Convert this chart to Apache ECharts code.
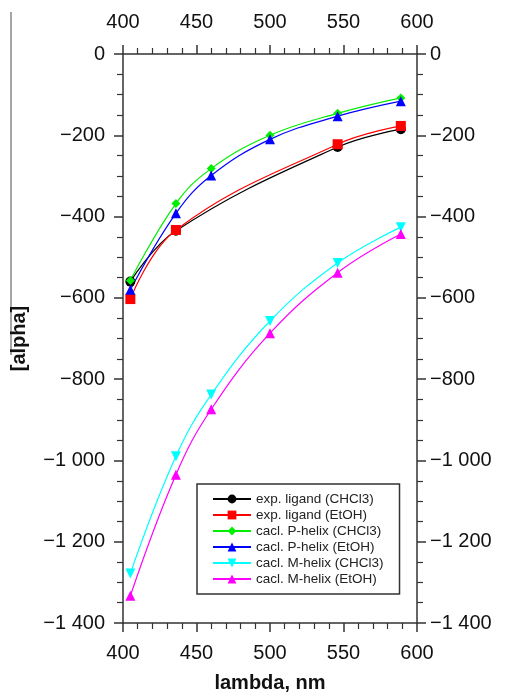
<!DOCTYPE html>
<html><head><meta charset="utf-8">
<script src="https://cdn.jsdelivr.net/npm/echarts@6/dist/echarts.min.js"></script>
<style>html,body{margin:0;padding:0;background:#fff}#c{width:505px;height:698px}</style>
</head><body><div id="c"></div>
<script>
const lambdaExp = [405, 436, 546, 589];
const lambdaCalc = [405, 436, 460, 500, 546, 589];
const expLigandCHCl3 = [-560, -435, -229, -185];
const expLigandEtOH = [-603, -433, -222, -177];
const pHelixCHCl3 = [-557, -368, -282, -200, -146, -108];
const pHelixEtOH = [-580, -392, -299, -210, -153, -116];
const mHelixCHCl3 = [-1278, -990, -838, -657, -514, -426];
const mHelixEtOH = [-1333, -1035, -874, -687, -538, -443];
const seriesNames = ['exp. ligand (CHCl3)','exp. ligand (EtOH)','cacl. P-helix (CHCl3)','cacl. P-helix (EtOH)','cacl. M-helix (CHCl3)','cacl. M-helix (EtOH)'];

const zip = (xs, ys) => xs.map((x, i) => [x, ys[i]]);
const fmtY = v => {
  const a = Math.abs(v);
  const s = a >= 1000 ? Math.floor(a/1000) + ' ' + String(a%1000).padStart(3,'0') : String(a);
  return (v < 0 ? '\u2212' : '') + s;
};
const FONT = 'Liberation Sans';
const axisLineStyle = {color: '#333', width: 1.5};
const xCommon = {
  type: 'value', min: 400, max: 600, interval: 50,
  axisLine: {show: true, onZero: false, lineStyle: axisLineStyle},
  axisTick: {show: true, length: 9, lineStyle: axisLineStyle},
  minorTick: {show: true, splitNumber: 5, length: 6, lineStyle: {color: '#333', width: 1.2}},
  splitLine: {show: false},
  axisLabel: {fontFamily: FONT, fontSize: 20, color: '#111'}
};
const yCommon = {
  type: 'value', min: -1400, max: 0, interval: 200,
  axisLine: {show: true, onZero: false, lineStyle: axisLineStyle},
  axisTick: {show: true, length: 9, lineStyle: axisLineStyle},
  minorTick: {show: true, splitNumber: 4, length: 6, lineStyle: {color: '#333', width: 1.2}},
  splitLine: {show: false},
  axisLabel: {fontFamily: FONT, fontSize: 20, color: '#111', formatter: fmtY}
};
const mk = (name, xs, ys, color, symbol, size, rot) => ({
  name, type: 'line', data: zip(xs, ys), smooth: 0.4,
  symbol, symbolSize: size, symbolRotate: rot || 0, showSymbol: true,
  itemStyle: {color}, lineStyle: {color, width: 1.2},
  xAxisIndex: 0, yAxisIndex: 0, z: 2
});
const chart = echarts.init(document.getElementById('c'), null, {renderer: 'canvas'});
chart.setOption({
  animation: false,
  backgroundColor: '#fff',
  grid: {left: 123, right: 88, top: 54, bottom: 69, containLabel: false},
  xAxis: [
    Object.assign({}, xCommon, {position: 'bottom', name: 'lambda, nm', nameLocation: 'middle', nameGap: 50,
      nameTextStyle: {fontFamily: FONT, fontSize: 20, fontWeight: 'bold', color: '#111'},
      axisLabel: Object.assign({}, xCommon.axisLabel, {margin: 20})}),
    Object.assign({}, xCommon, {position: 'top', axisLabel: Object.assign({}, xCommon.axisLabel, {margin: 22})})
  ],
  yAxis: [
    Object.assign({}, yCommon, {position: 'left', name: '[alpha]', nameLocation: 'middle', nameGap: 94, nameRotate: 90,
      nameTextStyle: {fontFamily: FONT, fontSize: 20, fontWeight: 'bold', color: '#111'},
      axisLabel: Object.assign({}, yCommon.axisLabel, {margin: 18})}),
    Object.assign({}, yCommon, {position: 'right', axisLabel: Object.assign({}, yCommon.axisLabel, {margin: 13})})
  ],
  legend: {
    orient: 'vertical', left: 197, top: 484,
    data: seriesNames,
    itemWidth: 38, itemHeight: 11, itemGap: 2,
    padding: [8, 16, 8, 15],
    borderColor: '#333', borderWidth: 1.5, backgroundColor: '#fff',
    textStyle: {fontFamily: FONT, fontSize: 13.5, color: '#222', lineHeight: 13}
  },
  graphic: [{type: 'line', shape: {x1: 11, y1: 12, x2: 11, y2: 355}, style: {stroke: '#888', lineWidth: 1.5}}],
  series: [
    mk(seriesNames[0], lambdaExp, expLigandCHCl3, '#000000', 'circle', 10),
    mk(seriesNames[1], lambdaExp, expLigandEtOH, '#ff0000', 'rect', 10),
    mk(seriesNames[2], lambdaCalc, pHelixCHCl3, '#00ee00', 'diamond', 9),
    mk(seriesNames[3], lambdaCalc, pHelixEtOH, '#0000ff', 'triangle', 10),
    mk(seriesNames[4], lambdaCalc, mHelixCHCl3, '#00ffff', 'triangle', 10, 180),
    mk(seriesNames[5], lambdaCalc, mHelixEtOH, '#ff00ff', 'triangle', 10)
  ]
});
</script></body></html>
